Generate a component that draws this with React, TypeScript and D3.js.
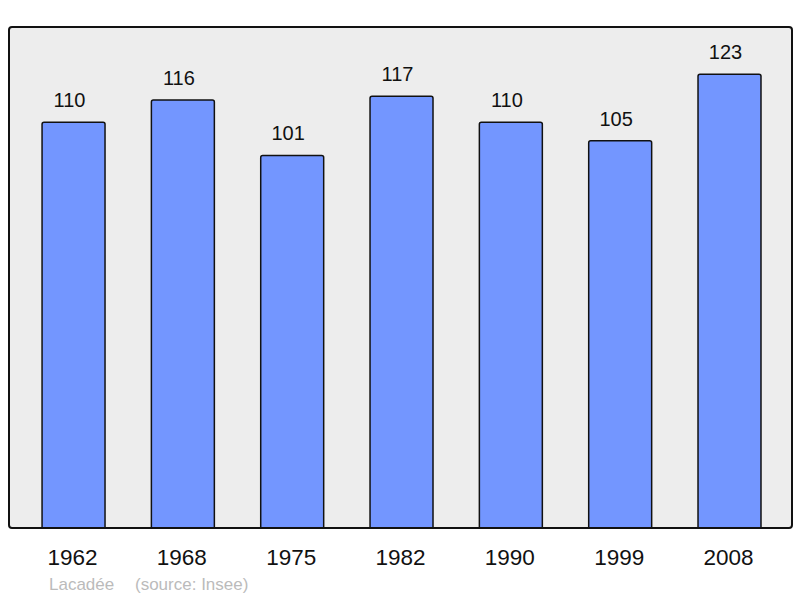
import * as d3 from "d3";

const years = ["1962", "1968", "1975", "1982", "1990", "1999", "2008"];
const population = [110, 116, 101, 117, 110, 105, 123];
const credit = "Lacadée";
const source = "(source: Insee)";

const WIDTH = 800;
const HEIGHT = 598;
const PANEL = { left: 9, top: 27, right: 792, bottom: 528 };
const FONT = "'Liberation Sans', Arial, sans-serif";

export default function App() {
  const xScale = d3
    .scaleBand()
    .domain(years)
    .range([PANEL.left, PANEL.right])
    .paddingInner(0.424)
    .paddingOuter(0.293)
    .align(0.516);

  const yScale = d3
    .scaleLinear()
    .domain([0, 135.8])
    .range([PANEL.bottom, PANEL.top]);

  const panelW = PANEL.right - PANEL.left;
  const panelH = PANEL.bottom - PANEL.top;

  return (
    <svg
      width={WIDTH}
      height={HEIGHT}
      style={{ position: "absolute", left: 0, top: 0, fontFamily: FONT }}
    >
      <rect width={WIDTH} height={HEIGHT} fill="#fff" />
      <clipPath id="panel-clip">
        <rect x={PANEL.left} y={PANEL.top} width={panelW} height={panelH} rx={3} />
      </clipPath>
      <rect
        x={PANEL.left}
        y={PANEL.top}
        width={panelW}
        height={panelH}
        rx={3}
        fill="#ededed"
      />
      <g clipPath="url(#panel-clip)">
        {years.map((year, i) => {
          const y = yScale(population[i]);
          return (
            <rect
              key={year}
              x={xScale(year)}
              y={y}
              width={xScale.bandwidth()}
              height={PANEL.bottom - y + 2}
              rx={2}
              fill="#7396ff"
              stroke="#111"
              strokeWidth={1.5}
            />
          );
        })}
      </g>
      {years.map((year, i) => (
        <text
          key={"v" + year}
          x={(xScale(year) ?? 0) + xScale.bandwidth() / 2 - 4}
          y={yScale(population[i]) - 15}
          textAnchor="middle"
          fontSize={20}
          fill="#111"
        >
          {population[i]}
        </text>
      ))}
      {years.map((year) => (
        <text
          key={"y" + year}
          x={(xScale(year) ?? 0) + xScale.bandwidth() / 2 - 1}
          y={565}
          textAnchor="middle"
          fontSize={22.5}
          fill="#111"
        >
          {year}
        </text>
      ))}
      <rect
        x={PANEL.left}
        y={PANEL.top}
        width={panelW}
        height={panelH}
        rx={3}
        fill="none"
        stroke="#111"
        strokeWidth={2}
      />
      <text x={49} y={590} fontSize={17} fill="#bbb">
        {credit}
      </text>
      <text x={135} y={590} fontSize={17} fill="#bbb">
        {source}
      </text>
    </svg>
  );
}
